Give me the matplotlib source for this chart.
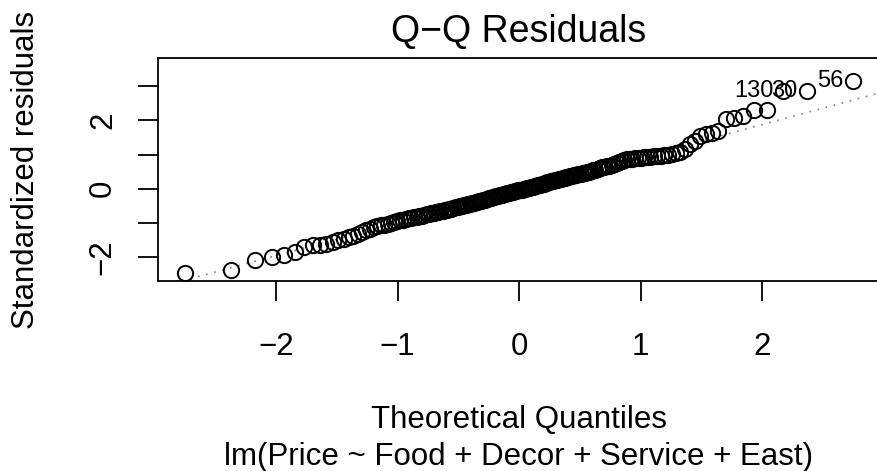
import numpy as np
import matplotlib
matplotlib.use('Agg')
import matplotlib.pyplot as plt
from statistics import NormalDist

# sorted standardized residuals of lm(Price ~ Food + Decor + Service + East), n = 168
std_resid = [
    -2.47, -2.39, -2.09, -2.00, -1.95, -1.85, -1.71, -1.67, -1.65, -1.62, -1.58, -1.51, -1.47, -1.42,
    -1.38, -1.33, -1.27, -1.22, -1.18, -1.14, -1.11, -1.08, -1.06, -1.04, -1.01, -0.98, -0.95, -0.93,
    -0.91, -0.89, -0.87, -0.86, -0.84, -0.82, -0.80, -0.79, -0.77, -0.76, -0.74, -0.73, -0.71, -0.70,
    -0.69, -0.67, -0.66, -0.64, -0.63, -0.61, -0.60, -0.58, -0.55, -0.53, -0.52, -0.50, -0.49, -0.47,
    -0.45, -0.44, -0.42, -0.41, -0.39, -0.38, -0.36, -0.35, -0.33, -0.32, -0.30, -0.29, -0.27, -0.26,
    -0.24, -0.23, -0.21, -0.20, -0.19, -0.17, -0.16, -0.14, -0.13, -0.11, -0.10, -0.08, -0.07, -0.05,
    -0.04, -0.03, -0.01, 0.00, 0.02, 0.03, 0.05, 0.06, 0.07, 0.09, 0.10, 0.12, 0.13, 0.15,
    0.16, 0.18, 0.19, 0.21, 0.22, 0.24, 0.25, 0.27, 0.28, 0.30, 0.31, 0.33, 0.34, 0.36,
    0.37, 0.39, 0.41, 0.42, 0.44, 0.45, 0.47, 0.49, 0.50, 0.52, 0.54, 0.56, 0.58, 0.60,
    0.62, 0.63, 0.65, 0.67, 0.70, 0.72, 0.75, 0.78, 0.82, 0.84, 0.86, 0.87, 0.88, 0.89,
    0.90, 0.91, 0.92, 0.93, 0.94, 0.95, 0.96, 0.97, 0.98, 0.99, 1.01, 1.04, 1.08, 1.16,
    1.30, 1.40, 1.54, 1.59, 1.64, 1.69, 2.04, 2.06, 2.13, 2.32, 2.32, 2.87, 2.88, 3.17,
]
# row names of the three largest |residuals|, in increasing order of residual
id_labels = ['130', '30', '56']

x_ticks = [-2, -1, 0, 1, 2]
x_ticklabels = ['\u22122', '\u22121', '0', '1', '2']
y_ticks = [-2, -1, 0, 1, 2, 3]
y_ticklabels = ['\u22122', '', '0', '', '2', '']

plt.rcParams['font.family'] = ['Liberation Sans', 'DejaVu Sans']
plt.rcParams['font.size'] = 22.5

r = np.array(std_resid)
n = len(r)
nd = NormalDist()
theo = np.array([nd.inv_cdf((i - 0.5) / n) for i in range(1, n + 1)])  # ppoints(n)

fig = plt.figure(figsize=(8.77, 4.71), dpi=100)
ax = fig.add_axes([0.1802, 0.4034, 0.8233, 0.4735])

ax.plot(theo, r, 'o', mfc='none', mec='black', ms=11, mew=1.4, zorder=3)

# qqline: through the first and third quartiles
q1, q3 = np.quantile(r, [0.25, 0.75])
z1, z3 = nd.inv_cdf(0.25), nd.inv_cdf(0.75)
slope = (q3 - q1) / (z3 - z1)
ax.axline((0, q1 - slope * z1), slope=slope, color='#7f7f7f', lw=1.2, ls=(0, (1, 4)), zorder=2)

# label the most extreme points on their left
ext = np.sort(np.argsort(np.abs(r))[-3:])
for k, lab in zip(ext, id_labels):
    ax.annotate(lab, (theo[k], r[k]), xytext=(-7, 0), textcoords='offset points',
                ha='right', va='center', fontsize=17)

# R style limits: 4% padding, extra headroom for the labels
xpad = 0.04 * (theo.max() - theo.min())
ax.set_xlim(theo.min() - xpad, theo.max() + xpad)
ylo, yhi = r.min(), r.max() + 0.075 * (r.max() - r.min())
ypad = 0.04 * (yhi - ylo)
ax.set_ylim(ylo - ypad, yhi + ypad)

ax.set_xticks(x_ticks, x_ticklabels)
ax.set_yticks(y_ticks, y_ticklabels, rotation=90, va='center')
ax.tick_params(axis='both', length=14.4, width=1.3, direction='out')
ax.tick_params(axis='x', pad=22)
ax.tick_params(axis='y', pad=14.5)
for s in ax.spines.values():
    s.set_linewidth(1.3)

ax.set_title('Q\u2212Q Residuals', pad=11.5)
ax.set_xlabel('Theoretical Quantiles')
ax.xaxis.set_label_coords(0.5, -0.556)
ax.text(0.5, -0.825, 'lm(Price ~ Food + Decor + Service + East)', transform=ax.transAxes,
        ha='center', va='baseline')
ax.set_ylabel('Standardized residuals')
ax.yaxis.set_label_coords(-0.1615, 0.5)

fig.savefig('out.png', dpi=100)
